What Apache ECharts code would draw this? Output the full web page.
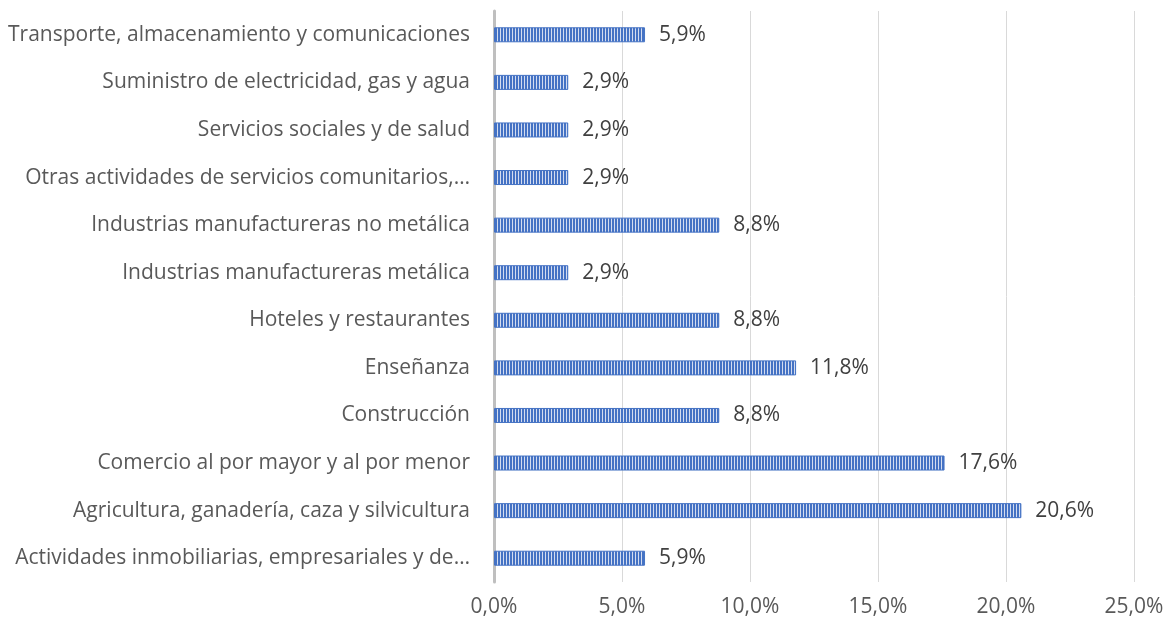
<!DOCTYPE html>
<html>
<head>
<meta charset="utf-8">
<script src="https://cdn.jsdelivr.net/npm/echarts@6/dist/echarts.min.js"></script>
<style>
  html, body { margin: 0; padding: 0; background: #fff; }
  #chart { width: 1175px; height: 623px; }
</style>
</head>
<body>
<div id="chart"></div>
<script>
// categorias de abajo hacia arriba (el eje de categorias empieza abajo)
const categories = [
  "Actividades inmobiliarias, empresariales y de…",
  "Agricultura, ganadería, caza y silvicultura",
  "Comercio al por mayor y al por menor",
  "Construcción",
  "Enseñanza",
  "Hoteles y restaurantes",
  "Industrias manufactureras metálica",
  "Industrias manufactureras no metálica",
  "Otras actividades de servicios comunitarios,…",
  "Servicios sociales y de salud",
  "Suministro de electricidad, gas y agua",
  "Transporte, almacenamiento y comunicaciones"
]
const values = [5.9, 20.6, 17.6, 8.8, 11.8, 8.8, 2.9, 8.8, 2.9, 2.9, 2.9, 5.9]
const xTicks = [0, 5, 10, 15, 20, 25]

const fmt = (v) => v.toFixed(1).replace(".", ",") + "%"

// patron de rayas verticales para las barras
const stripe = document.createElement("canvas")
stripe.width = 3
stripe.height = 4
const ctx = stripe.getContext("2d")
ctx.fillStyle = "#4472C4"
ctx.fillRect(0, 0, 3, 4)
ctx.fillStyle = "#d3dcf0"
ctx.fillRect(2, 0, 1, 4)

const font = "Open Sans"
const chart = echarts.init(document.getElementById("chart"))
chart.setOption({
  animation: false,
  grid: { left: 494, right: 41, top: 11, bottom: 41, containLabel: false },
  xAxis: {
    type: "value",
    min: xTicks[0],
    max: xTicks[xTicks.length - 1],
    interval: 5,
    axisLine: { show: false },
    axisTick: { show: false },
    axisLabel: {
      formatter: fmt,
      color: "#595959",
      fontSize: 21,
      fontFamily: font,
      margin: 15
    },
    splitLine: { lineStyle: { color: "#d9d9d9", width: 1 } }
  },
  yAxis: {
    type: "category",
    data: categories,
    axisLine: { lineStyle: { color: "#bfbfbf", width: 3 } },
    axisTick: { show: false },
    axisLabel: {
      color: "#595959",
      fontSize: 21,
      fontFamily: font,
      margin: 24
    }
  },
  series: [{
    type: "bar",
    data: values,
    barWidth: 15,
    itemStyle: {
      color: { image: stripe, repeat: "repeat" },
      borderColor: "#4472C4",
      borderWidth: 1
    },
    label: {
      show: true,
      position: "right",
      distance: 14,
      formatter: (p) => fmt(p.value),
      color: "#404040",
      fontSize: 21,
      fontFamily: font
    }
  }]
})
</script>
</body>
</html>
